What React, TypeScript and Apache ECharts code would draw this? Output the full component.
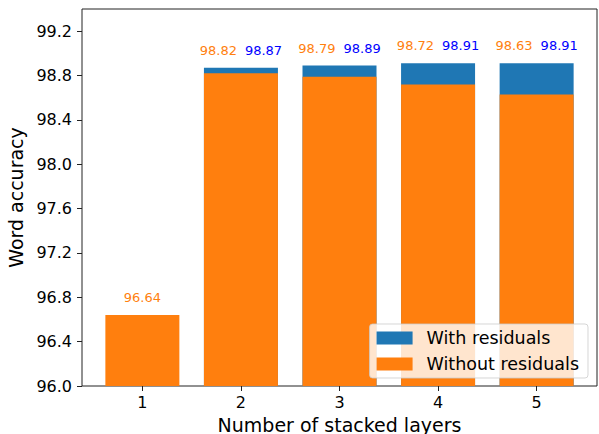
import React, { useEffect, useRef } from "react";
import * as echarts from "echarts";

const layers = [1, 2, 3, 4, 5];
const withResiduals: (number | null)[] = [null, 98.87, 98.89, 98.91, 98.91];
const withoutResiduals = [96.64, 98.82, 98.79, 98.72, 98.63];
const yTicks = [96.0, 96.4, 96.8, 97.2, 97.6, 98.0, 98.4, 98.8, 99.2];

const BLUE = "#1f77b4";
const ORANGE = "#ff7f0e";
const FONT = "DejaVu Sans";

export default function App() {
  const ref = useRef<HTMLDivElement>(null);
  useEffect(() => {
    document.body.style.margin = "0";
    if (!ref.current) return;
    const chart = echarts.init(ref.current, null, { renderer: "svg" });
    const blueData = layers
      .map((x, i) => ({ x, v: withResiduals[i], o: withoutResiduals[i] }))
      .filter((d) => d.v !== null)
      .map((d) => ({
        value: [d.x, d.v],
        label: {
          show: true,
          position: "top",
          distance: 11,
          formatter: `{o|${d.o.toFixed(2)}}{b|${(d.v as number).toFixed(2)}}`,
          rich: {
            o: { color: ORANGE, fontSize: 13, fontFamily: FONT, padding: [0, 4, 0, 0] },
            b: { color: "#0000ff", fontSize: 13, fontFamily: FONT, padding: [0, 0, 0, 4] },
          },
        },
      }));
    const orangeData = layers.map((x, i) => ({
      value: [x, withoutResiduals[i]],
      label:
        withResiduals[i] === null
          ? {
              show: true,
              position: "top",
              distance: 11,
              color: ORANGE,
              fontSize: 13,
              fontFamily: FONT,
              formatter: withoutResiduals[i].toFixed(2),
            }
          : { show: false },
    }));
    chart.setOption({
      animation: false,
      grid: {
        left: 82,
        right: 2,
        top: 9,
        bottom: 48,
        containLabel: false,
        outerBoundsMode: "none",
        show: true,
        borderColor: "#222",
        borderWidth: 1,
        backgroundColor: "transparent",
      },
      legend: {
        orient: "vertical",
        right: 11,
        bottom: 56,
        icon: "rect",
        itemWidth: 36,
        itemHeight: 13,
        itemGap: 8,
        padding: [5, 9, 5, 7],
        backgroundColor: "rgba(255,255,255,0.8)",
        borderColor: "rgba(204,204,204,0.8)",
        borderWidth: 1,
        borderRadius: 3,
        textStyle: { fontSize: 17.5, fontFamily: FONT, color: "#000", padding: [0, 0, 0, 9] },
        data: ["With residuals", "Without residuals"],
      },
      xAxis: {
        type: "value",
        min: 0.3875,
        max: 5.6125,
        name: "Number of stacked layers",
        nameLocation: "middle",
        nameGap: 29,
        nameTextStyle: { fontSize: 19, fontFamily: FONT, color: "#000" },
        splitLine: { show: false },
        axisLine: { show: false },
        axisTick: {
          show: true,
          length: 5,
          lineStyle: { color: "#222" },
          customValues: layers,
        },
        axisLabel: {
          fontSize: 16,
          fontFamily: FONT,
          color: "#000",
          margin: 8,
          customValues: layers,
          formatter: (v: number) => String(Math.round(v)),
        },
      },
      yAxis: {
        type: "value",
        min: 96,
        max: 99.4,
        name: "Word accuracy",
        nameLocation: "middle",
        nameGap: 53,
        nameRotate: 90,
        nameTextStyle: { fontSize: 19, fontFamily: FONT, color: "#000" },
        splitLine: { show: false },
        axisLine: { show: false },
        axisTick: {
          show: true,
          length: 5,
          lineStyle: { color: "#222" },
          customValues: yTicks,
        },
        axisLabel: {
          fontSize: 16,
          fontFamily: FONT,
          color: "#000",
          margin: 10,
          customValues: yTicks,
          formatter: (v: number) => v.toFixed(1),
        },
      },
      series: [
        {
          name: "With residuals",
          type: "bar",
          barWidth: 74,
          barGap: "-100%",
          itemStyle: { color: BLUE },
          data: blueData,
        },
        {
          name: "Without residuals",
          type: "bar",
          barWidth: 74,
          barGap: "-100%",
          itemStyle: { color: ORANGE },
          data: orangeData,
        },
      ],
    });
    return () => chart.dispose();
  }, []);
  return <div ref={ref} style={{ width: 599, height: 434 }} />;
}
